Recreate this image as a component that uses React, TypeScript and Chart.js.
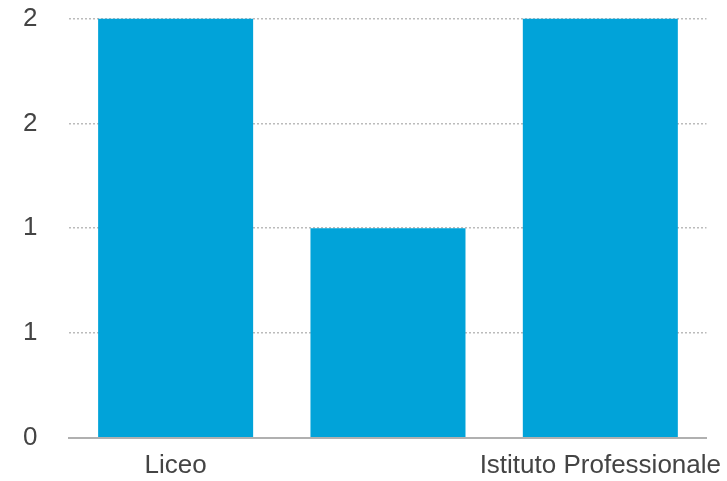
import React, { useEffect, useRef } from "react";
import { Chart, registerables } from "chart.js";

Chart.register(...registerables);

const categories: string[] = ["Liceo", "Istituto Tecnico", "Istituto Professionale"];
const values: number[] = [2, 1, 2];
const yTickValues: number[] = [0, 0.5, 1, 1.5, 2];

export default function App() {
  const ref = useRef<HTMLCanvasElement | null>(null);

  useEffect(() => {
    if (!ref.current) return;
    const fmt = new Intl.NumberFormat("it-IT", { maximumFractionDigits: 0 });
    const font = { family: "'Liberation Sans', Arial, sans-serif", size: 26 };
    const chart = new Chart(ref.current, {
      type: "bar",
      data: {
        labels: categories,
        datasets: [
          {
            data: values,
            backgroundColor: "#01A3D9",
            borderWidth: 0,
            categoryPercentage: 0.73,
            barPercentage: 1,
          },
        ],
      },
      options: {
        animation: false,
        responsive: false,
        maintainAspectRatio: false,
        layout: { padding: { left: 20, top: 0, right: 0, bottom: -3 } },
        plugins: {
          legend: { display: false },
          tooltip: { enabled: false },
        },
        scales: {
          x: {
            grid: { display: false, drawTicks: true, tickLength: 9 },
            border: { display: true, color: "#b0b0b0", width: 2 },
            ticks: {
              color: "#444444",
              font,
              maxRotation: 0,
              minRotation: 0,
              autoSkip: true,
              padding: 3,
            },
          },
          y: {
            min: 0,
            max: 2,
            afterBuildTicks: (scale: any) => {
              scale.ticks = yTickValues.map((v) => ({ value: v }));
            },
            grid: {
              color: "#bbbbbb",
              lineWidth: 1.5,
              drawTicks: true,
              tickLength: 29,
              tickColor: "rgba(0,0,0,0)",
            },
            border: { display: false, dash: [2, 2] },
            ticks: {
              color: "#444444",
              font,
              padding: 3,
              callback: (v: any) => fmt.format(Number(v)),
            },
          },
        },
      },
    });
    return () => chart.destroy();
  }, []);

  return (
    <div style={{ position: "fixed", left: 0, top: 0, width: 727, height: 481, background: "#fff" }}>
      <canvas ref={ref} width={724} height={481} style={{ width: 724, height: 481 }} />
    </div>
  );
}
